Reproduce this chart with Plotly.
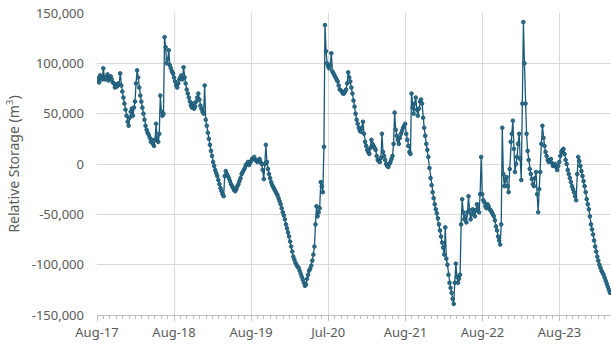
import pandas as pd
import plotly.graph_objects as go

# Relative storage (thousand m3), sampled every 5 days from 1 Aug 2017
start_date = "2017-08-01"
step = "5D"
storage_k = [
    83, 85, 81, 88, 86, 84, 95, 86, 84, 86,
    89, 83, 85, 87, 84, 81, 80, 76, 78, 77,
    80, 79, 90, 78, 72, 66, 60, 54, 48, 42,
    38, 46, 52, 55, 48, 56, 62, 80, 93, 86,
    76, 68, 62, 56, 50, 44, 38, 34, 31, 29,
    26, 22, 24, 20, 18, 24, 40, 26, 22, 30,
    68, 52, 48, 50, 126, 116, 100, 104, 113, 98,
    95, 92, 90, 86, 82, 78, 76, 80, 84, 86,
    88, 84, 96, 86, 80, 74, 70, 66, 62, 58,
    56, 60, 55, 57, 62, 66, 70, 64, 58, 55,
    52, 50, 78, 44, 38, 31, 25, 19, 13, 8,
    2, -2, -6, -9, -12, -16, -20, -24, -27, -30,
    -32, -12, -7, -10, -12, -14, -17, -20, -22, -24,
    -26, -27, -25, -22, -20, -17, -14, -10, -8, -6,
    -4, -1, 0, 2, -1, 1, 3, 5, 6, 7,
    4, 3, 2, 4, 5, 2, 0, -6, -15, 0,
    19, 2, -5, -10, -14, -18, -21, -23, -25, -27,
    -29, -31, -34, -37, -40, -44, -48, -51, -55, -60,
    -64, -68, -72, -77, -82, -87, -92, -95, -98, -100,
    -102, -103, -106, -109, -112, -115, -118, -121, -120, -114,
    -110, -106, -104, -101, -96, -90, -82, -60, -42, -52,
    -48, -44, -18, -22, -28, 17, 138, 112, 100, 97,
    95, 98, 110, 92, 90, 88, 86, 84, 82, 78,
    74, 73, 72, 70, 70, 72, 74, 80, 91, 86,
    82, 76, 70, 63, 57, 50, 44, 40, 36, 33,
    32, 36, 42, 30, 22, 18, 14, 12, 10, 16,
    24, 20, 18, 16, 14, 8, 4, 3, 2, 6,
    30, 12, 8, 4, 0, -2, -3, 0, 2, 5,
    8, 20, 51, 34, 28, 24, 20, 26, 30, 33,
    36, 38, 40, 30, 24, 18, 12, 10, 70, 56,
    50, 60, 66, 54, 48, 55, 62, 64, 60, 46,
    36, 28, 20, 14, 7, -4, -14, -21, -28, -34,
    -40, -45, -49, -54, -60, -66, -72, -78, -83, -90,
    -63, -94, -100, -110, -118, -123, -128, -134, -139, -118,
    -99, -112, -118, -114, -110, -60, -35, -48, -55, -52,
    -58, -48, -32, -46, -55, -50, -45, -48, -52, -46,
    -40, -44, -48, -30, 7, -30, -36, -38, -42, -44,
    -40, -42, -45, -46, -48, -50, -52, -56, -62, -66,
    -72, -76, -80, -60, 36, -10, -22, -16, -13, -22,
    -28, -5, 22, 30, 43, 15, -8, 0, 7, 20,
    30, 5, -16, 60, 141, 100, 60, 30, 13, 4,
    -5, -10, -15, -20, -22, -14, -8, -30, -48, -25,
    -8, 20, 38, 26, 18, 12, 8, 4, 2, 3,
    5, 1, -2, -1, 0, -3, -6, -2, 2, 8,
    12, 14, 15, 10, 4, 0, -6, -10, -14, -18,
    -22, -25, -28, -32, -36, -10, 7, 3, -2, -7,
    -12, -17, -22, -28, -35, -40, -45, -52, -60, -65,
    -70, -76, -82, -87, -92, -96, -100, -103, -106, -108,
    -110, -113, -116, -119, -122, -125, -128,
]
storage = [v * 1000 for v in storage_k]
dates = pd.date_range(start_date, periods=len(storage), freq=step)

# Axis ticks
x_tick_dates = ["2017-08-01", "2018-08-01", "2019-08-01", "2020-07-31",
                "2021-08-01", "2022-08-01", "2023-08-01"]
x_tick_labels = ["Aug-17", "Aug-18", "Aug-19", "Jul-20", "Aug-21", "Aug-22", "Aug-23"]
y_tick_vals = [-150000, -100000, -50000, 0, 50000, 100000, 150000]
y_tick_labels = ["-150,000", "-100,000", "-50,000", "0", "50,000", "100,000", "150,000"]

line_col = "#1b5a77"
grid_col = "#d9d9d9"
text_col = "#595959"
font_family = "Noto Sans"

fig = go.Figure(
    go.Scatter(
        x=dates,
        y=storage,
        mode="lines+markers",
        line=dict(color=line_col, width=1.3),
        marker=dict(symbol="circle", size=3.6, color="#2e6c89",
                    line=dict(color=line_col, width=1)),
        showlegend=False,
    )
)

fig.update_layout(
    width=611,
    height=345,
    margin=dict(l=97, r=0, t=13, b=30),
    paper_bgcolor="white",
    plot_bgcolor="white",
    font=dict(family=font_family, size=13, color=text_col),
)

fig.update_xaxes(
    range=["2017-08-01", "2024-04-01"],
    tickmode="array",
    tickvals=x_tick_dates,
    ticktext=x_tick_labels,
    showgrid=True,
    gridcolor=grid_col,
    gridwidth=1.3,
    showline=True,
    linecolor="#bfbfbf",
    linewidth=1.3,
    ticks="outside",
    ticklen=5,
    tickcolor="#bfbfbf",
    tickfont=dict(size=13, color=text_col),
    minor=dict(ticks="outside", ticklen=3, tickcolor="#bfbfbf",
               dtick="M1", tick0="2017-08-01", showgrid=False),
    zeroline=False,
)

fig.update_yaxes(
    range=[-150000, 150000],
    tickmode="array",
    tickvals=y_tick_vals,
    ticktext=y_tick_labels,
    showgrid=True,
    gridcolor=grid_col,
    gridwidth=1.3,
    zeroline=False,
    showline=False,
    ticks="",
    ticklabelstandoff=12,
    tickfont=dict(size=13, color=text_col),
    title=dict(text="Relative Storage (m<sup>3</sup>)",
               font=dict(size=14, color=text_col), standoff=8),
)

fig.write_html("out.html")
